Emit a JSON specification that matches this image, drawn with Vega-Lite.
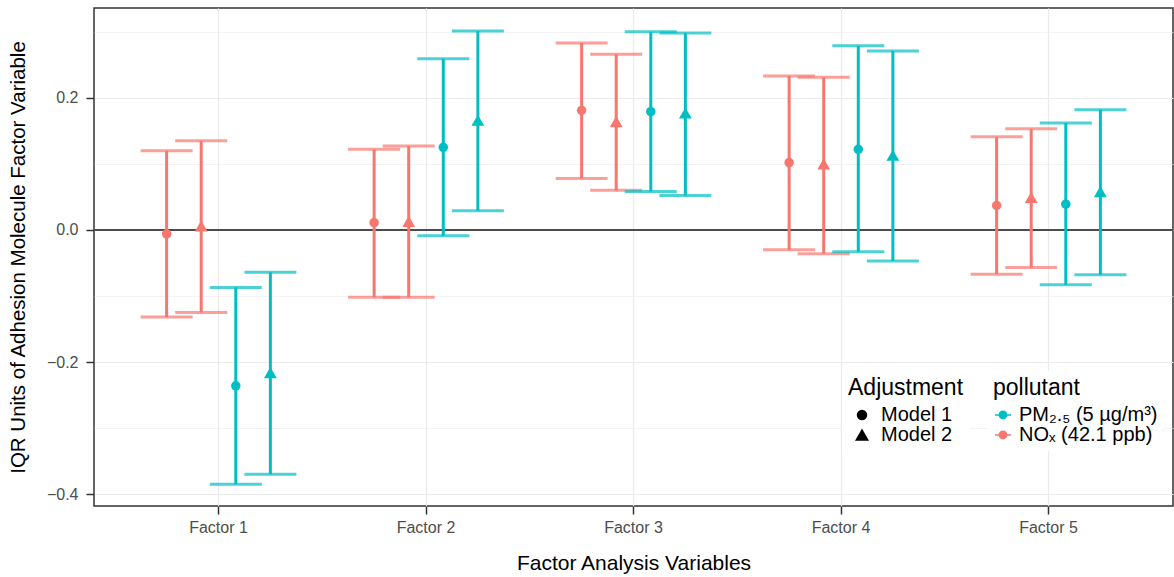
{
  "$schema": "https://vega.github.io/schema/vega-lite/v6.json",
  "width": 1079,
  "height": 498,
  "autosize": {"type": "none"},
  "padding": {"left": 94, "top": 8, "right": 1, "bottom": 71},
  "background": "white",
  "config": {
    "font": "Liberation Sans",
    "view": {"stroke": "#333333", "strokeWidth": 1.5},
    "axis": {
      "domain": false,
      "tickColor": "#333333",
      "tickWidth": 1.5,
      "tickSize": 8,
      "labelColor": "#4d4d4d",
      "labelFontSize": 16,
      "titleFontSize": 21,
      "titleFontWeight": "normal",
      "titleColor": "black",
      "gridColor": "#ebebeb",
      "gridWidth": 1.2
    },
    "legend": {
      "titleFontSize": 23,
      "titleFontWeight": "normal",
      "titleColor": "black",
      "labelFontSize": 20,
      "labelColor": "black",
      "fillColor": "white",
      "padding": 6,
      "rowPadding": 0,
      "titlePadding": 5,
      "symbolOpacity": 1
    }
  },
  "datasets": {
    "est": [
      {"factor": "Factor 1", "pollutant": "NOₓ (42.1 ppb)", "model": "Model 1", "group": "NOx Model 1", "est": -0.006, "lo": -0.132, "hi": 0.120},
      {"factor": "Factor 1", "pollutant": "NOₓ (42.1 ppb)", "model": "Model 2", "group": "NOx Model 2", "est": 0.006, "lo": -0.125, "hi": 0.135},
      {"factor": "Factor 1", "pollutant": "PM₂.₅ (5 µg/m³)", "model": "Model 1", "group": "PM Model 1", "est": -0.236, "lo": -0.385, "hi": -0.087},
      {"factor": "Factor 1", "pollutant": "PM₂.₅ (5 µg/m³)", "model": "Model 2", "group": "PM Model 2", "est": -0.216, "lo": -0.370, "hi": -0.064},
      {"factor": "Factor 2", "pollutant": "NOₓ (42.1 ppb)", "model": "Model 1", "group": "NOx Model 1", "est": 0.011, "lo": -0.102, "hi": 0.122},
      {"factor": "Factor 2", "pollutant": "NOₓ (42.1 ppb)", "model": "Model 2", "group": "NOx Model 2", "est": 0.013, "lo": -0.102, "hi": 0.127},
      {"factor": "Factor 2", "pollutant": "PM₂.₅ (5 µg/m³)", "model": "Model 1", "group": "PM Model 1", "est": 0.125, "lo": -0.009, "hi": 0.259},
      {"factor": "Factor 2", "pollutant": "PM₂.₅ (5 µg/m³)", "model": "Model 2", "group": "PM Model 2", "est": 0.166, "lo": 0.029, "hi": 0.301},
      {"factor": "Factor 3", "pollutant": "NOₓ (42.1 ppb)", "model": "Model 1", "group": "NOx Model 1", "est": 0.181, "lo": 0.078, "hi": 0.283},
      {"factor": "Factor 3", "pollutant": "NOₓ (42.1 ppb)", "model": "Model 2", "group": "NOx Model 2", "est": 0.164, "lo": 0.060, "hi": 0.266},
      {"factor": "Factor 3", "pollutant": "PM₂.₅ (5 µg/m³)", "model": "Model 1", "group": "PM Model 1", "est": 0.179, "lo": 0.058, "hi": 0.300},
      {"factor": "Factor 3", "pollutant": "PM₂.₅ (5 µg/m³)", "model": "Model 2", "group": "PM Model 2", "est": 0.177, "lo": 0.052, "hi": 0.298},
      {"factor": "Factor 4", "pollutant": "NOₓ (42.1 ppb)", "model": "Model 1", "group": "NOx Model 1", "est": 0.102, "lo": -0.030, "hi": 0.233},
      {"factor": "Factor 4", "pollutant": "NOₓ (42.1 ppb)", "model": "Model 2", "group": "NOx Model 2", "est": 0.100, "lo": -0.036, "hi": 0.231},
      {"factor": "Factor 4", "pollutant": "PM₂.₅ (5 µg/m³)", "model": "Model 1", "group": "PM Model 1", "est": 0.122, "lo": -0.033, "hi": 0.279},
      {"factor": "Factor 4", "pollutant": "PM₂.₅ (5 µg/m³)", "model": "Model 2", "group": "PM Model 2", "est": 0.113, "lo": -0.047, "hi": 0.271},
      {"factor": "Factor 5", "pollutant": "NOₓ (42.1 ppb)", "model": "Model 1", "group": "NOx Model 1", "est": 0.037, "lo": -0.067, "hi": 0.141},
      {"factor": "Factor 5", "pollutant": "NOₓ (42.1 ppb)", "model": "Model 2", "group": "NOx Model 2", "est": 0.049, "lo": -0.057, "hi": 0.153},
      {"factor": "Factor 5", "pollutant": "PM₂.₅ (5 µg/m³)", "model": "Model 1", "group": "PM Model 1", "est": 0.039, "lo": -0.083, "hi": 0.162},
      {"factor": "Factor 5", "pollutant": "PM₂.₅ (5 µg/m³)", "model": "Model 2", "group": "PM Model 2", "est": 0.058, "lo": -0.068, "hi": 0.182}
    ]
  },
  "data": {"name": "est"},
  "encoding": {
    "x": {
      "field": "factor",
      "type": "nominal",
      "scale": {"paddingInner": 0, "paddingOuter": 0.1},
      "axis": {"title": "Factor Analysis Variables", "labelAngle": 0, "labelPadding": 5, "titlePadding": 17, "grid": true, "bandPosition": 0.5}
    }
  },
  "layer": [
    {
      "mark": {"type": "rule", "color": "#4d4d4d", "strokeWidth": 1.5},
      "encoding": {
        "x": null,
        "y": {
          "datum": 0,
          "type": "quantitative",
          "scale": {"domain": [-0.418, 0.336], "nice": false, "zero": false},
          "title": "IQR Units of Adhesion Molecule Factor Variable"
        }
      }
    },
    {
      "mark": {"type": "rule", "strokeWidth": 3},
      "encoding": {
        "xOffset": {"field": "group", "type": "nominal", "scale": {"domain": ["NOx Model 1", "NOx Model 2", "PM Model 1", "PM Model 2"], "paddingInner": 0, "paddingOuter": 1.0}},
        "y": {
          "field": "lo",
          "type": "quantitative",
          "scale": {"domain": [-0.418, 0.336], "nice": false, "zero": false},
          "title": "IQR Units of Adhesion Molecule Factor Variable",
          "axis": {
            "values": [-0.4, -0.3, -0.2, -0.1, 0, 0.1, 0.2, 0.3],
            "format": ".1f",
            "labelExpr": "round(datum.value*10) % 2 == 0 ? datum.label : ''",
            "tickOpacity": {"condition": {"test": "round(datum.value*10) % 2 != 0", "value": 0}, "value": 1},
            "gridWidth": {"condition": {"test": "round(datum.value*10) % 2 != 0", "value": 0.6}, "value": 1.2},
            "labelPadding": 8,
            "titlePadding": 18,
            "titleFontSize": 20.5,
            "grid": true
          }
        },
        "y2": {"field": "hi"},
        "color": {
          "field": "pollutant",
          "type": "nominal",
          "scale": {"domain": ["PM₂.₅ (5 µg/m³)", "NOₓ (42.1 ppb)"], "range": ["#00BFC4", "#F8766D"]},
          "legend": {"title": "pollutant", "orient": "none", "legendX": 893, "legendY": 363, "symbolType": "M-1,-0.1L1,-0.1L1,0.1L-1,0.1Z M0.55,0A0.55,0.55,0,1,1,-0.55,0A0.55,0.55,0,1,1,0.55,0Z", "symbolSize": 256, "symbolStrokeWidth": 0, "labelOffset": 6}
        }
      }
    },
    {
      "mark": {"type": "tick", "thickness": 3, "size": 52, "orient": "horizontal"},
      "encoding": {
        "xOffset": {"field": "group", "type": "nominal"},
        "y": {"field": "lo", "type": "quantitative", "title": "IQR Units of Adhesion Molecule Factor Variable"},
        "color": {"field": "pollutant", "type": "nominal"}
      }
    },
    {
      "mark": {"type": "tick", "thickness": 3, "size": 52, "orient": "horizontal"},
      "encoding": {
        "xOffset": {"field": "group", "type": "nominal"},
        "y": {"field": "hi", "type": "quantitative", "title": "IQR Units of Adhesion Molecule Factor Variable"},
        "color": {"field": "pollutant", "type": "nominal"}
      }
    },
    {
      "transform": [{"filter": "datum.model == 'Model 1'"}],
      "mark": {"type": "point", "filled": true, "opacity": 1, "size": 90},
      "encoding": {
        "xOffset": {"field": "group", "type": "nominal"},
        "y": {"field": "est", "type": "quantitative", "title": "IQR Units of Adhesion Molecule Factor Variable"},
        "color": {"field": "pollutant", "type": "nominal"},
        "shape": {
          "field": "model",
          "type": "nominal",
          "scale": {"domain": ["Model 1", "Model 2"], "range": ["circle", "triangle-up"]},
          "legend": {
            "title": "Adjustment", "orient": "none", "legendX": 748, "legendY": 363,
            "symbolSize": 90, "symbolOffset": 4, "labelOffset": 9,
            "symbolFillColor": "black", "symbolStrokeColor": "black",
            "encode": {"symbols": {"update": {"size": {"signal": "datum.value == 'Model 2' ? 130 : 80"}}}}
          }
        }
      }
    },
    {
      "transform": [{"filter": "datum.model == 'Model 2'"}],
      "mark": {"type": "point", "filled": true, "opacity": 1, "size": 165},
      "encoding": {
        "xOffset": {"field": "group", "type": "nominal"},
        "y": {"field": "est", "type": "quantitative", "title": "IQR Units of Adhesion Molecule Factor Variable"},
        "color": {"field": "pollutant", "type": "nominal"},
        "shape": {"field": "model", "type": "nominal"}
      }
    }
  ]
}
